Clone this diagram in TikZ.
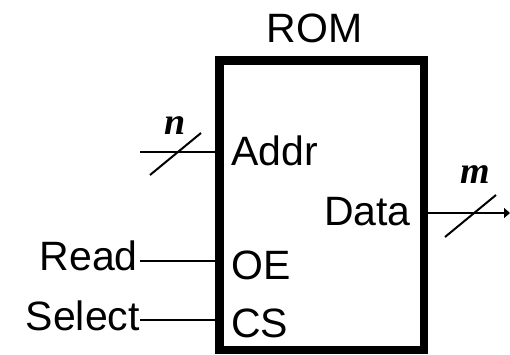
\documentclass[tikz,border=0pt]{standalone}
\usepackage{fontspec}
\setmainfont{Liberation Sans}
\newfontfamily\busfont{Liberation Serif}
\usetikzlibrary{arrows.meta, calc}
\tikzset{
  chip/.style={draw, line width=8.5pt, minimum width=204.5pt, minimum height=289.5pt, inner sep=0pt},
  plab/.style={inner sep=0pt, font=\fontsize{41}{48}\selectfont},
  blab/.style={inner sep=0pt, font=\fontsize{38}{44}\selectfont\busfont\bfseries\itshape},
  wire/.style={line width=2pt},
  slash/.style={line width=2pt}
}

\begin{document}
\begin{tikzpicture}[x=1pt, y=-1pt]
		\useasboundingbox (0,0) rectangle (510,355);
		\node[chip] (rom) at (321.75,205.25) {};
		\node[plab, anchor=base] (title) at (314.5,43) {ROM};
		% ports inside the chip
		\node[plab, anchor=base west] (addr) at (231,166) {Addr};
		\node[plab, anchor=base east] (data) at (411,225) {Data};
		\node[plab, anchor=base west] (oe) at (231,279) {OE};
		\node[plab, anchor=base west] (cs) at (231,337) {CS};
		% signals outside
		\node[plab, anchor=base east] (read) at (138,270) {Read};
		\node[plab, anchor=base east] (sel) at (140,330) {Select};
		\coordinate (addrin) at (rom.west |- 0,152);
		\coordinate (oein) at (rom.west |- 0,261);
		\coordinate (csin) at (rom.west |- 0,320);
		\coordinate (dataout) at (rom.east |- 0,213);
		\coordinate (addrbus) at (140,152);
		\coordinate (databus) at (510,213);
		\draw[wire] ($(read.east |- oein)+(2,0)$) -- (oein);
		\draw[wire] (sel.east |- csin) -- (csin);
		\draw[wire] (addrbus) -- (addrin);
		\draw[wire, -{Triangle[length=6pt, width=10pt]}] (dataout) -- (databus);
		% bus widths
		\draw[slash] (150,175) -- (201,133);
		\node[blab, anchor=base] (n) at (175,135) {n};
		\draw[slash] (445,237) -- (496,195);
		\node[blab, anchor=base] (m) at (475,183) {m};
	\end{tikzpicture}
\end{document}
